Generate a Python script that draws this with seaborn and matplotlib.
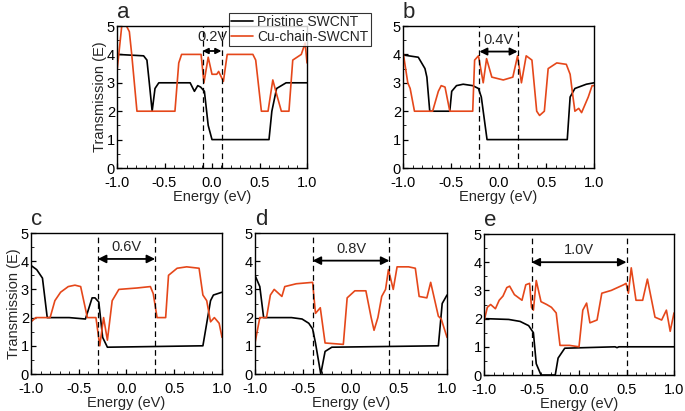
import matplotlib
matplotlib.use("Agg")
import matplotlib.pyplot as plt
import seaborn as sns
import numpy as np
from matplotlib.lines import Line2D

sns.set_theme(style="ticks")
plt.rcParams['font.family'] = ['Liberation Sans', 'DejaVu Sans']

# ---------------- data ----------------
# panel a (0.2 V)
a_pri_x = [-1.0, -0.72, -0.685, -0.66, -0.63, -0.6, -0.56, -0.23, -0.185, -0.15, -0.12, -0.08, -0.04, 0.0, 0.6, 0.63, 0.68, 0.78, 1.0]
a_pri_y = [4.0, 3.95, 3.8, 3.0, 2.0, 2.8, 3.0, 3.0, 2.7, 2.9, 2.85, 2.7, 1.5, 1.0, 1.0, 2.0, 2.8, 3.0, 3.0]
a_cu_x = [-1.0, -0.95, -0.9, -0.87, -0.845, -0.79, -0.39, -0.35, -0.32, -0.115, -0.085, -0.04, 0.0, 0.05, 0.07, 0.12, 0.16, 0.43, 0.46, 0.52, 0.59, 0.64, 0.68, 0.73, 0.81, 0.85, 0.94, 0.98, 1.0]
a_cu_y = [3.4, 5.0, 5.0, 4.8, 4.0, 2.0, 2.0, 3.7, 4.0, 4.0, 3.0, 3.9, 3.3, 3.3, 3.4, 3.05, 4.0, 4.0, 3.8, 2.0, 2.0, 3.1, 2.6, 2.0, 2.0, 3.8, 4.0, 4.4, 3.7]

# panel b (0.4 V)
b_pri_x = [-1.0, -0.84, -0.77, -0.75, -0.72, -0.51, -0.49, -0.44, -0.37, -0.27, -0.21, -0.18, -0.14, -0.12, 0.72, 0.75, 0.80, 0.92, 1.0]
b_pri_y = [3.98, 3.9, 3.5, 3.2, 2.0, 2.0, 2.7, 2.9, 2.95, 2.9, 2.8, 2.5, 1.5, 1.0, 1.0, 2.5, 2.8, 2.95, 3.0]
b_cu_x = [-1.0, -0.95, -0.925, -0.88, -0.69, -0.63, -0.6, -0.56, -0.51, -0.27, -0.25, -0.21, -0.16, -0.125, -0.07, 0.05, 0.15, 0.2, 0.24, 0.29, 0.35, 0.4, 0.43, 0.48, 0.52, 0.61, 0.71, 0.75, 0.78, 0.8, 0.84, 0.87, 0.94, 0.98, 1.0]
b_cu_y = [4.1, 3.0, 2.8, 2.0, 2.0, 2.7, 2.9, 2.85, 2.0, 2.0, 3.8, 3.95, 3.0, 3.85, 3.2, 3.1, 3.2, 3.95, 3.0, 3.95, 3.8, 2.0, 1.85, 2.0, 3.5, 3.7, 3.65, 3.3, 2.5, 2.0, 2.1, 1.95, 2.5, 2.9, 2.9]

# panel c (0.6 V)
c_pri_x = [-1.0, -0.94, -0.88, -0.83, -0.6, -0.43, -0.36, -0.33, -0.29, -0.25, -0.2, 0.8, 0.88, 0.91, 1.0]
c_pri_y = [3.85, 3.7, 3.4, 2.0, 2.0, 1.95, 2.7, 2.7, 2.55, 1.3, 0.95, 1.0, 2.6, 2.8, 2.9]
c_cu_x = [-1.0, -0.95, -0.80, -0.75, -0.69, -0.61, -0.54, -0.48, -0.41, -0.32, -0.28, -0.24, -0.2, -0.15, -0.08, 0.11, 0.25, 0.28, 0.32, 0.41, 0.44, 0.53, 0.63, 0.76, 0.8, 0.84, 0.88, 0.92, 0.97, 1.0]
c_cu_y = [1.85, 2.0, 2.0, 2.6, 2.9, 3.1, 3.15, 3.1, 2.0, 2.0, 1.0, 2.0, 1.2, 2.6, 3.0, 3.05, 3.1, 2.85, 2.0, 2.0, 3.5, 3.75, 3.8, 3.75, 2.8, 2.6, 1.85, 2.0, 1.8, 1.3]

# panel d (0.8 V)
d_pri_x = [-1.0, -0.95, -0.91, -0.62, -0.51, -0.44, -0.4, -0.37, -0.315, -0.27, -0.2, 0.91, 0.95, 1.0]
d_pri_y = [3.5, 3.1, 2.0, 2.0, 1.95, 1.8, 1.6, 1.1, 0.0, 0.8, 0.95, 1.0, 2.5, 2.8]
d_cu_x = [-1.0, -0.95, -0.88, -0.84, -0.8, -0.72, -0.69, -0.57, -0.4, -0.37, -0.32, -0.27, -0.08, -0.04, 0.04, 0.155, 0.21, 0.24, 0.28, 0.32, 0.36, 0.39, 0.44, 0.48, 0.6, 0.67, 0.71, 0.79, 0.83, 0.91, 0.94, 1.0]
d_cu_y = [1.1, 2.0, 2.0, 2.8, 3.0, 2.75, 3.1, 3.2, 3.25, 2.15, 2.35, 1.1, 1.05, 2.7, 2.95, 2.95, 2.0, 1.55, 2.0, 2.75, 3.0, 3.7, 3.0, 3.8, 3.8, 3.75, 2.75, 2.7, 3.25, 2.05, 1.95, 1.3]

# panel e (1.0 V)
e_pri_x = [-1.0, -0.74, -0.62, -0.53, -0.48, -0.45, -0.4, -0.25, -0.22, -0.15, 0.38, 0.4, 0.42, 1.0]
e_pri_y = [2.0, 1.97, 1.9, 1.75, 1.5, 0.4, 0.0, 0.0, 0.6, 0.95, 1.0, 0.97, 1.0, 1.0]
e_cu_x = [-1.0, -0.965, -0.93, -0.88, -0.84, -0.8, -0.76, -0.73, -0.68, -0.64, -0.6, -0.56, -0.52, -0.5, -0.48, -0.45, -0.4, -0.34, -0.29, -0.24, -0.2, -0.1, 0.0, 0.04, 0.08, 0.115, 0.19, 0.24, 0.34, 0.47, 0.495, 0.52, 0.55, 0.6, 0.67, 0.72, 0.8, 0.87, 0.92, 0.96, 1.0]
e_cu_y = [1.9, 2.4, 2.5, 2.35, 2.65, 2.8, 3.1, 3.15, 2.85, 2.75, 2.65, 3.2, 3.25, 2.4, 2.3, 3.35, 2.6, 2.5, 2.4, 2.2, 1.05, 1.05, 1.0, 2.3, 2.55, 1.85, 1.95, 2.9, 3.0, 3.2, 3.25, 2.9, 3.8, 2.65, 2.65, 3.4, 2.05, 1.95, 2.3, 1.55, 2.2]

panel_letters = ["a", "b", "c", "d", "e"]
bias_labels = ["0.2V", "0.4V", "0.6V", "0.8V", "1.0V"]
bias_half = [0.1, 0.2, 0.3, 0.4, 0.5]
series_names = ["Pristine SWCNT", "Cu-chain-SWCNT"]
x_ticks = [-1.0, -0.5, 0.0, 0.5, 1.0]
y_ticks = [0, 1, 2, 3, 4, 5]

panels = [
    (a_pri_x, a_pri_y, a_cu_x, a_cu_y),
    (b_pri_x, b_pri_y, b_cu_x, b_cu_y),
    (c_pri_x, c_pri_y, c_cu_x, c_cu_y),
    (d_pri_x, d_pri_y, d_cu_x, d_cu_y),
    (e_pri_x, e_pri_y, e_cu_x, e_cu_y),
]

# ---------------- layout ----------------
W, H = 685, 411
fig = plt.figure(figsize=(W / 100, H / 100), dpi=100)
boxes = [(117, 26, 307, 168), (403, 26, 594, 168),
         (31, 233, 222, 374), (255, 233, 447, 374), (484, 234, 674, 375)]
arrow_y = [4.12, 4.1, 4.08, 4.02, 4.0]
text_y = [4.6, 4.5, 4.5, 4.43, 4.45]
head_scale = [8, 11, 12, 12, 12]

BLACK = "#000000"
RED = "#E5471A"

for i, (px, py, cx, cy) in enumerate(panels):
    l, t, r, b = boxes[i]
    ax = fig.add_axes([l / W, 1 - b / H, (r - l) / W, (b - t) / H])
    sns.lineplot(x=px, y=py, ax=ax, color=BLACK, lw=1.2, sort=False, estimator=None)
    sns.lineplot(x=cx, y=cy, ax=ax, color=RED, lw=1.2, sort=False, estimator=None)
    h = bias_half[i]
    for xv in (-h, h):
        ax.axvline(xv, color="black", ls=(0, (4.5, 3)), lw=0.9)
    ax.annotate("", xy=(h, arrow_y[i]), xytext=(-h, arrow_y[i]),
                arrowprops=dict(arrowstyle="<|-|>", color="black", lw=1.3,
                                mutation_scale=head_scale[i], shrinkA=0, shrinkB=0))
    ax.text(0, text_y[i], bias_labels[i], ha="center", va="center", fontsize=10.5)
    ax.set_xlim(-1, 1)
    ax.set_ylim(0, 5)
    ax.set_xticks(x_ticks)
    ax.set_xticklabels([f"{v:.1f}" for v in x_ticks])
    ax.set_yticks(y_ticks)
    ax.set_xticks(np.arange(-1.0, 1.01, 0.1), minor=True)
    ax.set_yticks(np.arange(0, 5.01, 0.5), minor=True)
    ax.tick_params(which="major", direction="in", length=3.5, width=0.9,
                   labelsize=10.5, colors="black")
    ax.tick_params(axis="x", which="major", pad=5.5)
    ax.tick_params(axis="y", which="major", pad=1.5)
    ax.tick_params(which="minor", direction="in", length=2, width=0.7)
    for s in ax.spines.values():
        s.set_color("black")
        s.set_linewidth(1.0)
    ax.set_xlabel("Energy (eV)", fontsize=10.5, labelpad=0.0)
    if i in (0, 2):
        ax.set_ylabel("Transmission (E)", fontsize=10.5, labelpad=0)
    else:
        ax.set_ylabel("")
    ax.text(0.0, 1.02, panel_letters[i], transform=ax.transAxes,
            fontsize=16, ha="left", va="bottom")
    if ax.get_legend() is not None:
        ax.get_legend().remove()

handles = [Line2D([], [], color=BLACK, lw=1.2), Line2D([], [], color=RED, lw=1.2)]
leg = fig.legend(handles, series_names, loc="upper left",
                 bbox_to_anchor=(229 / W, 1 - 13 / H), fontsize=10,
                 frameon=True, fancybox=False, edgecolor="black",
                 handlelength=1.6, handletextpad=0.3, borderpad=0.15,
                 labelspacing=0.05, borderaxespad=0)
leg.get_frame().set_linewidth(0.8)

fig.savefig("out.png", dpi=100)
